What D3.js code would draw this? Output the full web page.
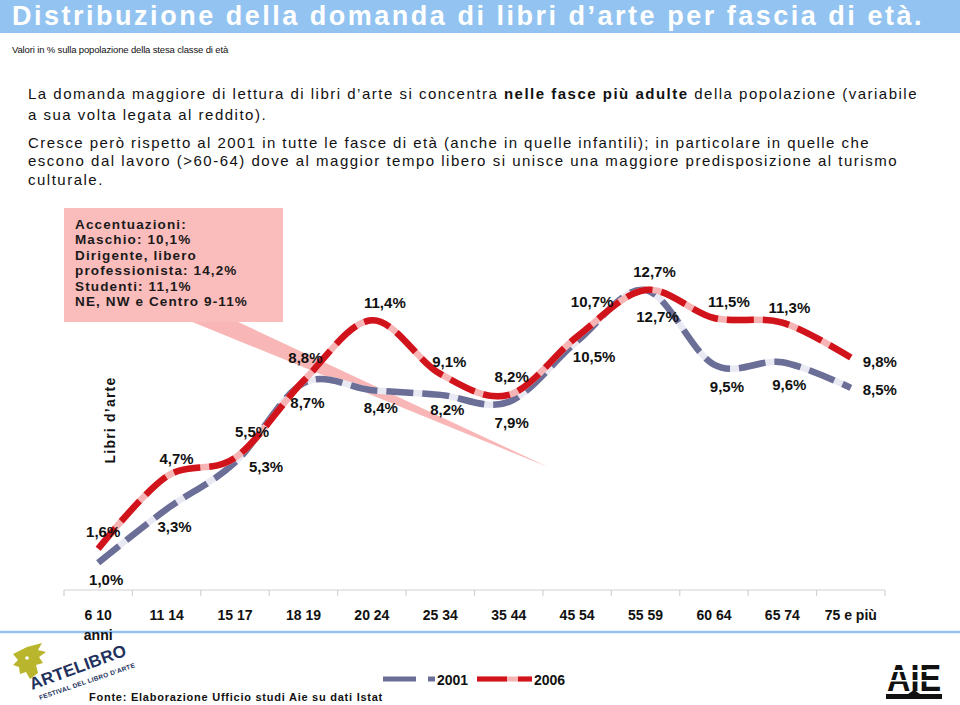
<!DOCTYPE html>
<html><head><meta charset="utf-8">
<script src="https://cdn.jsdelivr.net/npm/d3@7"></script>
<style>
html,body{margin:0;padding:0;background:#fff;}
svg{display:block;font-family:"Liberation Sans",Arial,Helvetica,sans-serif;}
</style></head><body>
<svg id="c" width="960" height="705"></svg>
<script>
// ---------- data ----------
const categories = ["6 10","11 14","15 17","18 19","20 24","25 34","35 44","45 54","55 59","60 64","65 74","75 e più"];
const values2001 = [1.0,3.3,5.3,8.7,8.4,8.2,7.9,10.5,12.7,9.5,9.6,8.5];
const values2006 = [1.6,4.7,5.5,8.8,11.4,9.1,8.2,10.7,12.7,11.5,11.3,9.8];
const seriesNames = ["2001","2006"];
const firstCategorySuffix = "anni";
const titleText = "Distribuzione della domanda di libri d\u2019arte per fascia di età.";
const subtitleText = "Valori in % sulla popolazione della stesa classe di età";
const axisTitle = "Libri d\u2019arte";
const calloutLines = ["Accentuazioni:","Maschio: 10,1%","Dirigente, libero","professionista: 14,2%","Studenti: 11,1%","NE, NW e Centro 9-11%"];
const sourceText = "Fonte: Elaborazione Ufficio studi Aie su dati Istat";

// ---------- layout (label offsets relative to their points) ----------
const offsets2001 = [[8,22],[8,23],[31,10],[4,25],[9,23],[7,20],[3,26],[17,21],[12,32],[13,27],[7,28],[29,7]];
const offsets2006 = [[5,-12],[10,-12],[17,-21],[2,-18],[13,-12],[9,-7],[3,-13],[15,-30],[9,-13],[15,-11],[7,-10],[29,9]];

const svg = d3.select("#c");
const BLUE_BAR = "#93c4f1";
const C2001 = "#6b6e96", C2001gap = "#e9e9f4";
const C2006 = "#d1131b", C2006gap = "#f6b4b4";

function fit(sel, w){
  sel.each(function(){
    const n = this.getNumberOfChars();
    const L = this.getComputedTextLength();
    d3.select(this).attr("letter-spacing", ((w - L) / n).toFixed(3));
  });
}
function spacingFor(node, w){
  return (w - node.getComputedTextLength()) / node.getNumberOfChars();
}

// ---------- header ----------
svg.append("rect").attr("x",0).attr("y",0).attr("width",960).attr("height",33).attr("fill",BLUE_BAR);
const title = svg.append("text").attr("x",12).attr("y",25).attr("fill","#fff")
  .attr("font-size",27).attr("font-weight","bold").text(titleText);
fit(title, 912);

const sub = svg.append("text").attr("x",12).attr("y",53).attr("fill","#111")
  .attr("font-size",9.5).text(subtitleText);
fit(sub, 216);

// body paragraphs
const body = [
  {y:99, parts:[["La domanda maggiore di lettura di libri d\u2019arte si concentra ",false],["nelle fasce più adulte",true],[" della popolazione (variabile",false]], w:890},
  {y:120, parts:[["a sua volta legata al reddito).",false]]},
  {y:148, parts:[["Cresce però rispetto al 2001 in tutte le fasce di età (anche in quelle infantili); in particolare in quelle che",false]], w:842},
  {y:166, parts:[["escono dal lavoro (>60-64) dove al maggior tempo libero si unisce una maggiore predisposizione al turismo",false]], w:870},
  {y:185, parts:[["culturale.",false]]}
];
let baseSpacing = 0.8;
body.forEach((ln,i)=>{
  const t = svg.append("text").attr("x",28).attr("y",ln.y).attr("font-size",15).attr("fill","#111");
  ln.parts.forEach(p=>t.append("tspan").attr("font-weight",p[1]?"bold":"normal").text(p[0]));
  ln.node = t;
});
body.forEach(ln=>{ if(ln.w){ const s = spacingFor(ln.node.node(), ln.w); if(ln===body[0]) baseSpacing = s; ln.node.attr("letter-spacing", s.toFixed(3)); } });
body.forEach(ln=>{ if(!ln.w) ln.node.attr("letter-spacing", baseSpacing.toFixed(3)); });

// ---------- scales ----------
const x = d3.scaleBand().domain(categories).range([64, 885]).padding(0);
const cx = c => x(c) + x.bandwidth()/2;
const y = d3.scaleLinear().domain([0, 12.7]).range([586, 290]);

// ---------- callout ----------
svg.append("path").attr("d","M190,321 L236,321 L548,467 Z").attr("fill","#f8b6b6");
svg.append("rect").attr("x",64).attr("y",208).attr("width",219).attr("height",114).attr("fill","#fbbcbc");
const cl = svg.append("g").attr("font-size",13.5).attr("font-weight","bold").attr("fill","#1a1a1a");
const clTexts = cl.selectAll("text").data(calloutLines).join("text")
  .attr("x",75).attr("y",(d,i)=>229 + i*15.4).text(d=>d);
const clSp = spacingFor(clTexts.nodes()[5], 173);
clTexts.attr("letter-spacing", clSp.toFixed(3));

// ---------- axis ----------
const axisY = 590;
svg.append("line").attr("x1",0).attr("x2",960).attr("y1",632).attr("y2",632)
  .attr("stroke",BLUE_BAR).attr("stroke-width",2.5);
const boundaries = categories.map(c=>x(c)).concat([x(categories[categories.length-1]) + x.bandwidth()]);
svg.append("line").attr("x1",boundaries[0]).attr("x2",boundaries[boundaries.length-1])
  .attr("y1",axisY).attr("y2",axisY).attr("stroke","#d2d2d2").attr("stroke-width",1.2);
svg.append("g").selectAll("line").data(boundaries).join("line")
  .attr("x1",d=>d).attr("x2",d=>d).attr("y1",axisY).attr("y2",axisY+6)
  .attr("stroke","#d2d2d2").attr("stroke-width",1.2);
const ax = svg.append("g").attr("transform",`translate(0,${axisY})`)
  .call(d3.axisBottom(x).tickSize(0).tickPadding(20));
ax.select(".domain").remove();
ax.selectAll("text").attr("font-size",14).attr("font-weight","bold").attr("fill","#111")
  .attr("font-family",'"Liberation Sans",Arial,sans-serif');
svg.append("text").attr("x",cx(categories[0])).attr("y",640).attr("text-anchor","middle")
  .attr("font-size",14).attr("font-weight","bold").attr("fill","#111").text(firstCategorySuffix);

// y-axis title
const yt = svg.append("text").attr("transform","translate(115,420) rotate(-90)")
  .attr("text-anchor","middle").attr("font-size",14).attr("font-weight","bold").attr("fill","#111").text(axisTitle);
fit(yt, 87);

// ---------- lines ----------
const line = d3.line().x((d,i)=>cx(categories[i])).y(d=>y(d)).curve(d3.curveCardinal.tension(0));
function drawSeries(vals, col, gap){
  svg.append("path").attr("d",line(vals)).attr("fill","none").attr("stroke",gap).attr("stroke-width",6.5);
  svg.append("path").attr("d",line(vals)).attr("fill","none").attr("stroke",col).attr("stroke-width",6.5)
    .attr("stroke-dasharray","27,9");
}
drawSeries(values2001, C2001, C2001gap);
drawSeries(values2006, C2006, C2006gap);

// ---------- labels ----------
const fmt = v => d3.format(".1f")(v).replace(".",",") + "%";
function labels(vals, offs){
  svg.append("g").selectAll("text").data(vals).join("text")
    .attr("x",(d,i)=>cx(categories[i]) + offs[i][0])
    .attr("y",(d,i)=>y(d) + offs[i][1])
    .attr("text-anchor","middle").attr("font-size",15).attr("font-weight","bold").attr("fill","#111")
    .text(fmt);
}
labels(values2001, offsets2001);
labels(values2006, offsets2006);

// ---------- legend ----------
const lg = svg.append("g");
lg.append("line").attr("x1",383).attr("x2",416).attr("y1",679).attr("y2",679).attr("stroke",C2001).attr("stroke-width",5);
lg.append("line").attr("x1",428).attr("x2",435).attr("y1",679).attr("y2",679).attr("stroke",C2001).attr("stroke-width",5);
lg.append("text").attr("x",437).attr("y",685).attr("font-size",14).attr("font-weight","bold").attr("fill","#111").text(seriesNames[0]);
lg.append("line").attr("x1",477).attr("x2",532).attr("y1",679).attr("y2",679).attr("stroke",C2006gap).attr("stroke-width",5);
lg.append("line").attr("x1",477).attr("x2",507).attr("y1",679).attr("y2",679).attr("stroke",C2006).attr("stroke-width",5);
lg.append("line").attr("x1",518).attr("x2",532).attr("y1",679).attr("y2",679).attr("stroke",C2006).attr("stroke-width",5);
lg.append("text").attr("x",534).attr("y",685).attr("font-size",14).attr("font-weight","bold").attr("fill","#111").text(seriesNames[1]);

// ---------- source ----------
const src = svg.append("text").attr("x",89).attr("y",701).attr("font-size",11).attr("font-weight","bold").attr("fill","#111").text(sourceText);
fit(src, 294);

// ---------- ARTELIBRO logo ----------
const lo = svg.append("g");
lo.append("path").attr("d","M13,654 L27,647 L42,643 L38,650 L46,652 L39,657 L43,663 L36,665 L38,673 L30,679 L26,672 L20,674 L19,667 L13,665 L18,660 Z")
  .attr("fill","#b9b52c");
lo.append("circle").attr("cx",27).attr("cy",658).attr("r",1.8).attr("fill","#fff");
lo.append("text").attr("transform","translate(32,690) rotate(-20)").attr("font-size",17).attr("font-weight","bold")
  .attr("fill","#22315c").attr("letter-spacing",0.3).text("ARTELIBRO");
lo.append("text").attr("transform","translate(40,700) rotate(-19)").attr("font-size",6.5).attr("font-weight","bold")
  .attr("fill","#22315c").attr("letter-spacing",0.3).text("FESTIVAL DEL LIBRO D\u2019ARTE");

// ---------- AIE logo ----------
const ae = svg.append("g");
ae.append("text").attr("x",914).attr("y",691).attr("text-anchor","middle").attr("font-size",36)
  .attr("font-weight","bold").attr("textLength",54).attr("lengthAdjust","spacingAndGlyphs")
  .attr("fill","#111").text("AIE");
ae.append("rect").attr("x",886).attr("y",670).attr("width",56).attr("height",2).attr("fill","#fff");
ae.append("rect").attr("x",886).attr("y",680).attr("width",56).attr("height",1.5).attr("fill","#fff");
ae.append("rect").attr("x",886).attr("y",694).attr("width",56).attr("height",5).attr("fill","#111");
ae.append("path").attr("d","M908,694 L914,690 L920,694 Z").attr("fill","#111");
</script>
</body></html>
